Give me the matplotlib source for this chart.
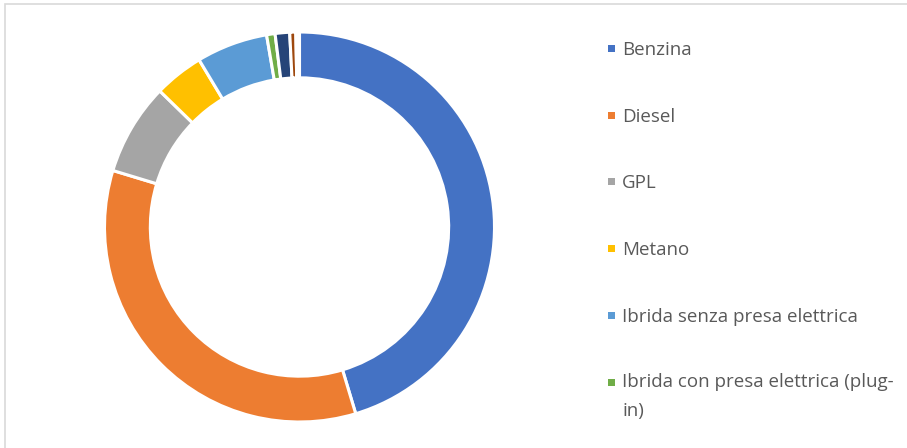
import matplotlib
matplotlib.use("Agg")
import matplotlib.pyplot as plt
from matplotlib.patches import Rectangle

categories = ["Benzina", "Diesel", "GPL", "Metano",
              "Ibrida senza presa elettrica",
              "Ibrida con presa elettrica (plug-in)",
              "Elettrica", "Altro", "Non definito"]
values = [45.3, 34.3, 7.6, 4.1, 5.9, 0.7, 1.2, 0.5, 0.3]
colors = ["#4472C4", "#ED7D31", "#A5A5A5", "#FFC000", "#5B9BD5",
          "#70AD47", "#264478", "#9E480E", "#FFFFFF"]
legend_labels = ["Benzina", "Diesel", "GPL", "Metano",
                 "Ibrida senza presa elettrica",
                 "Ibrida con presa elettrica (plug-\nin)"]

W, H = 907, 448
fig = plt.figure(figsize=(W / 100, H / 100), dpi=100)
fig.patch.set_facecolor("white")

# chart frame (partially visible)
fig.add_artist(Rectangle((5 / W, -0.1), 1.2, (H - 4) / H + 0.1,
                         transform=fig.transFigure, fill=False,
                         edgecolor="#D9D9D9", linewidth=1.2))

cx, cy, R = 299.5, H - 227, 195
ax = fig.add_axes([(cx - R) / W, (cy - R) / H, 2 * R / W, 2 * R / H])
ax.pie(values, colors=colors, startangle=90, counterclock=False, radius=1,
       wedgeprops=dict(width=0.235, edgecolor="white", linewidth=2.2))
ax.set_xlim(-1, 1)
ax.set_ylim(-1, 1)
ax.axis("off")

# legend
lx, sq_y, base_y, step, line_gap = 608, 48.5, 55, 66.7, 27
for i, (lab, col) in enumerate(zip(legend_labels, colors)):
    fig.add_artist(Rectangle(((lx - 0.5) / W, (H - (sq_y + i * step) - 3.5) / H),
                             7 / W, 7 / H, transform=fig.transFigure,
                             facecolor=col, edgecolor="none"))
    extra = lab.count("\n") * line_gap
    fig.text((lx + 14) / W, (H - (base_y + i * step + extra)) / H, lab,
             fontsize=13.5, family="Open Sans", color="#595959",
             va="baseline", linespacing=1.72)

fig.savefig("out.png", dpi=100)
